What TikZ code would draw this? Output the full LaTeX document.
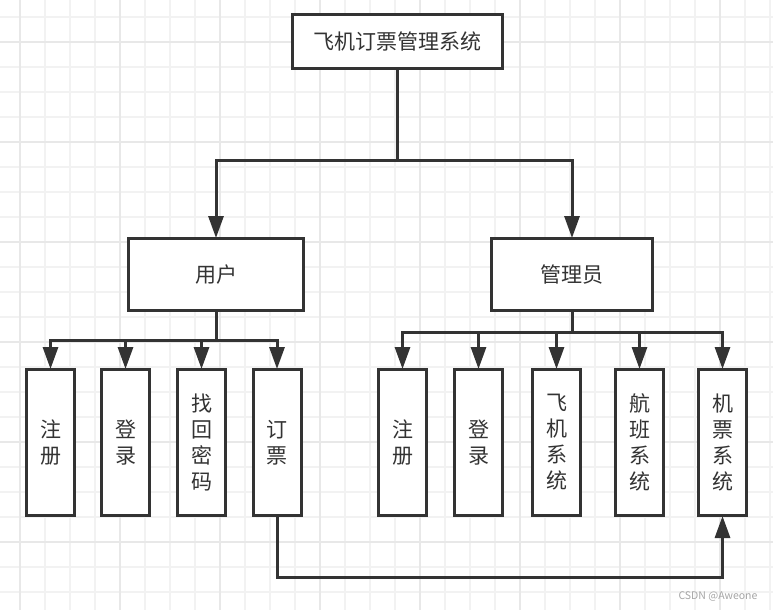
\documentclass[tikz,border=0pt]{standalone}
\usepackage{fontspec}
\setmainfont{Noto Sans CJK SC}
\usetikzlibrary{arrows.meta}
\definecolor{ink}{HTML}{333333}
\definecolor{gmin}{HTML}{F2F2F2}
\definecolor{gmaj}{HTML}{E8E8E8}
\tikzset{
  box/.style={draw=ink, line width=3pt, fill=white, text=ink, inner sep=0pt, align=center,
    font=\fontsize{21}{26}\selectfont},
  leaf/.style={box, minimum width=48pt, minimum height=146pt},
  conn/.style={draw=ink, line width=3pt},
  arr/.style={conn, -{Triangle[width=15pt,length=22pt]}, shorten >=-1pt},
}
\begin{document}
\begin{tikzpicture}[x=1pt,y=-1pt]
\fill[white] (0,0) rectangle (773,610);
\useasboundingbox (0,0) rectangle (773,610);
% grid
\foreach \k in {0,...,30} {
  \draw[gmin, line width=1.2pt] ({20+25*\k},0) -- ({20+25*\k},610);
}
\foreach \k in {-1,...,24} {
  \draw[gmin, line width=1.2pt] (0,{17+25*\k}) -- (773,{17+25*\k});
}
\foreach \k in {0,...,7} {
  \draw[gmaj, line width=1.2pt] ({20+100*\k},0) -- ({20+100*\k},610);
}
\foreach \k in {0,...,5} {
  \draw[gmaj, line width=1.2pt] (0,{42+100*\k}) -- (773,{42+100*\k});
}
% nodes
\node[box, minimum width=210pt, minimum height=54pt] (root) at (397.5,41.5) {飞机订票管理系统};
\node[box, minimum width=175pt, minimum height=72pt] (user) at (216,274.5) {用户};
\node[box, minimum width=161pt, minimum height=72pt] (admin) at (572,274.5) {管理员};

\node[leaf] (u1) at (50.5,442.5) {注\\册};
\node[leaf] (u2) at (125.5,442.5) {登\\录};
\node[leaf] (u3) at (201.5,442.5) {找\\回\\密\\码};
\node[leaf] (u4) at (277,442.5) {订\\票};

\node[leaf] (a1) at (402.5,442.5) {注\\册};
\node[leaf] (a2) at (478.5,442.5) {登\\录};
\node[leaf] (a3) at (556.5,442.5) {飞\\机\\系\\统};
\node[leaf] (a4) at (639.5,442.5) {航\\班\\系\\统};
\node[leaf] (a5) at (722.5,442.5) {机\\票\\系\\统};

% connectors
\coordinate (j0) at (397.5,160);
\draw[conn] (root.south) -- (j0);
\draw[arr] (j0) -| (user.north);
\draw[arr] (j0) -| (admin.north);

\coordinate (j1) at (216,340);
\draw[conn] (user.south) -- (j1);
\foreach \n in {u1,u2,u3,u4} { \draw[arr] (j1) -| (\n.north); }

\coordinate (j2) at (572,332);
\draw[conn] (admin.south) -- (j2);
\foreach \n in {a1,a2,a3,a4,a5} { \draw[arr] (j2) -| (\n.north); }

\coordinate (jb) at (500,577);
\draw[arr] (u4.south) |- (jb) -| (a5.south);

\node[text=gray!70, font=\fontsize{10.5}{11}\selectfont, inner sep=0pt] (wm) at (718,596) {CSDN @Aweone};
\end{tikzpicture}
\end{document}
